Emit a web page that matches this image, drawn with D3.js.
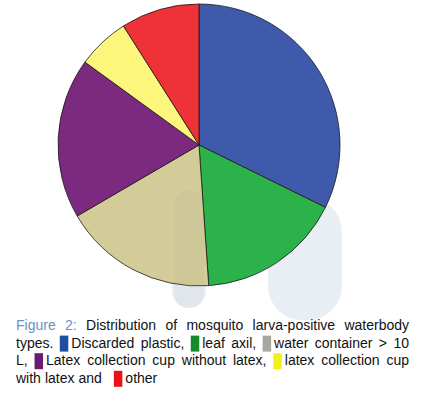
<!DOCTYPE html>
<html>
<head>
<meta charset="utf-8">
<script src="https://cdn.jsdelivr.net/npm/d3@7"></script>
<style>
  html, body { margin: 0; padding: 0; background: #fff; }
  svg { display: block; }
</style>
</head>
<body>
<svg id="chart" width="421" height="396"></svg>
<script>
// waterbody types, shares (%)
const categories = ['Discarded plastic', 'leaf axil', 'water container > 10 L',
  'Latex collection cup without latex', 'latex collection cup with latex', 'other'];
const shares = [32.3, 16.6, 17.7, 18.4, 6.0, 9.0];
const sliceColors = ['#3f5aab', '#2cb24b', '#d4cc98', '#7c2a7f', '#fcf67c', '#ee3237'];
const swatchColors = ['#1d4f9f', '#178a2d', '#a8a79f', '#6b1a71', '#f3ef1a', '#e8121b'];

// caption, one array per printed line; s = swatch index drawn before the word
const captionLines = [
  [{ t: 'Figure', c: '#6a8fc4' }, { t: '2:', c: '#6a8fc4' }, { t: 'Distribution' }, { t: 'of' },
   { t: 'mosquito' }, { t: 'larva-positive' }, { t: 'waterbody' }],
  [{ t: 'types.' }, { t: 'Discarded', s: 0 }, { t: 'plastic,' }, { t: 'leaf', s: 1 }, { t: 'axil,' },
   { t: 'water', s: 2 }, { t: 'container' }, { t: '>' }, { t: '10' }],
  [{ t: 'L,' }, { t: 'Latex', s: 3 }, { t: 'collection' }, { t: 'cup' }, { t: 'without' },
   { t: 'latex,' }, { t: 'latex', s: 4 }, { t: 'collection' }, { t: 'cup' }],
  [{ t: 'with' }, { t: 'latex' }, { t: 'and' }, { t: 'other', s: 5, pad: 8 }]
];

const svg = d3.select('#chart');
const cx = 199, cy = 145, radius = 141;

/*
Faint watermark shapes behind everything
*/
const wm = svg.append('g').attr('class', 'watermark');
wm.append('rect').attr('x', 268).attr('y', 198).attr('width', 74).attr('height', 122).attr('rx', 34)
  .attr('fill', '#e9edf4');
wm.append('rect').attr('x', 172).attr('y', 190).attr('width', 34).attr('height', 118).attr('rx', 17)
  .attr('fill', '#e9edf4');

/*
Pie
*/
const pie = d3.pie().sort(null).value(d => d);
const arc = d3.arc().innerRadius(0).outerRadius(radius);

svg.append('g').attr('class', 'pie')
  .attr('transform', `translate(${[cx, cy]})`)
  .selectAll('path')
  .data(pie(shares))
  .join('path')
  .attr('d', arc)
  .attr('fill', (d, i) => sliceColors[i])
  .attr('stroke', '#1a1a1a')
  .attr('stroke-width', 0.8);

// watermark tint over the pie
svg.append('rect').attr('x', 174).attr('y', 190).attr('width', 30).attr('height', 118).attr('rx', 15)
  .attr('fill', '#8f98a8').attr('opacity', 0.08);

/*
Justified caption
*/
const left = 16, right = 409, lineHeight = 17.6, firstBase = 330;
const swW = 8.5, swH = 16, swGap = 3;
const cap = svg.append('g').attr('class', 'caption')
  .style('font', '14px "Liberation Sans", Arial, sans-serif');

captionLines.forEach((tokens, li) => {
  const base = firstBase + li * lineHeight;
  const nodes = tokens.map(tk => {
    const g = cap.append('g');
    let off = 0;
    if (tk.s !== undefined) {
      g.append('rect').attr('x', tk.pad || 0).attr('y', -12)
        .attr('width', swW).attr('height', swH)
        .attr('fill', swatchColors[tk.s]);
      off = (tk.pad || 0) + swW + swGap;
    }
    const t = g.append('text').attr('x', off).attr('y', 0)
      .attr('fill', tk.c || '#111').text(tk.t);
    return { g, w: off + t.node().getComputedTextLength() };
  });
  const total = d3.sum(nodes, d => d.w);
  const last = li === captionLines.length - 1;
  const gap = last ? 4 : (right - left - total) / (nodes.length - 1);
  let x = left;
  nodes.forEach(n => {
    n.g.attr('transform', `translate(${[x, base]})`);
    x += n.w + gap;
  });
});
</script>
</body>
</html>
